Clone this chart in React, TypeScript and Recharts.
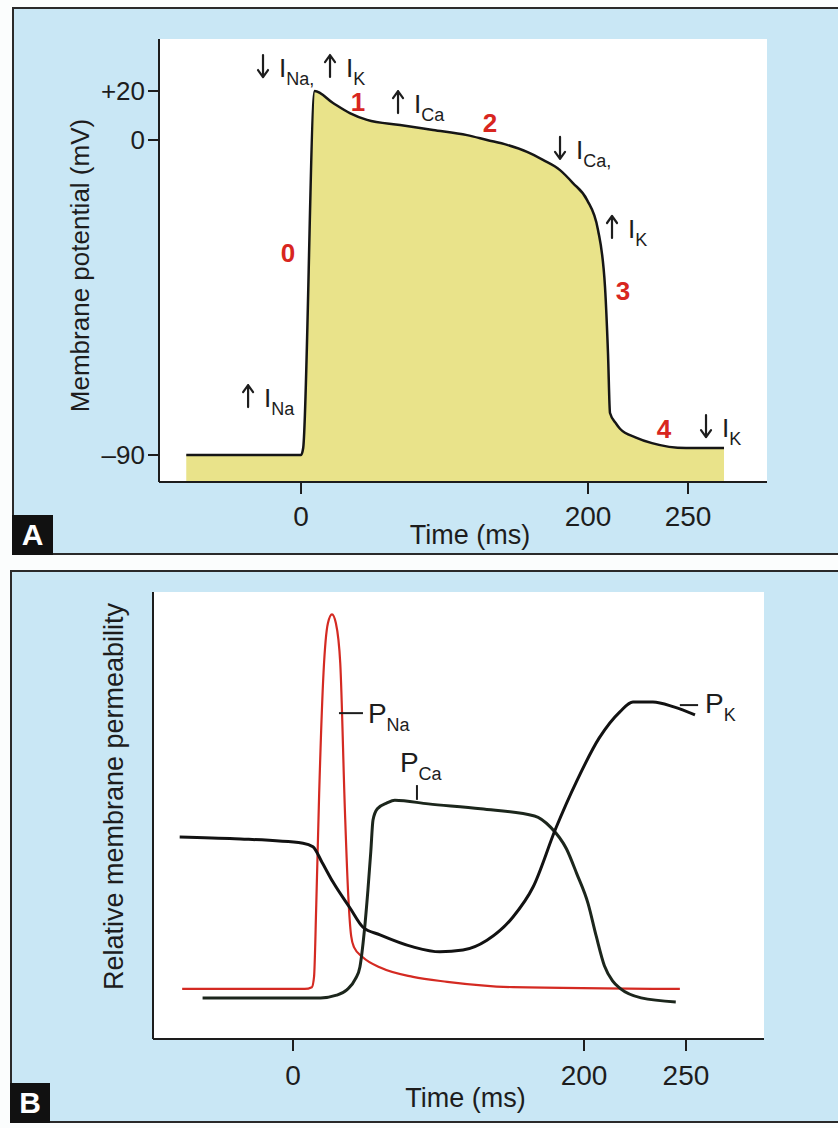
import React from "react";
import {
  ComposedChart,
  Area,
  Line,
  XAxis,
  YAxis,
  CartesianGrid,
  ReferenceDot,
  ReferenceLine,
} from "recharts";

const FONT = "'Liberation Sans', Arial, Helvetica, sans-serif";
const INK = "#1d1d1d";
const RED = "#d8261f";
const PANEL_BG = "#c9e7f5";

// A: ventricular action potential (ms, mV)
const apTime = [-80, 0, 1.5, 9.5, 22.3, 34, 46, 69, 92, 115.7, 129.6, 143.6, 157.5, 168.6, 180.5, 189.5, 199.3, 205, 208.5, 210, 211, 214, 216, 224, 232, 249, 268];
const apVoltage = [-90, -90, -88, 20, 15.1, 11, 8.2, 6.1, 4.1, 2.0, 0, -1.4, -3.4, -5.7, -8.6, -12.3, -17.1, -25.7, -42, -61, -78, -81, -82.5, -85, -86.6, -88, -88];

// B: relative permeabilities (arbitrary units 0-100)
const naTime = [-76, 8, 13, 14.5, 16, 18, 21, 24, 26.8, 29.5, 32.5, 35.7, 38, 40, 42, 48, 60, 82.5, 106, 151, 247];
const naPerm = [11.2, 11.2, 11.6, 14, 30, 55, 82, 93, 95, 93, 84, 51, 32, 23, 20.5, 18.3, 16, 13.9, 12.8, 11.6, 11.2];

const caTime = [-62, 19, 30, 37, 43, 46, 49, 51.5, 53.5, 55, 58, 64.6, 70, 93, 129, 166, 177, 188, 195, 202, 206, 210, 214, 218, 228, 245];
const caPerm = [9.2, 9.2, 9.8, 11, 13.5, 16.1, 24, 33.3, 42, 49, 51.5, 52.8, 53.4, 52.6, 51.5, 49.9, 47.4, 42.5, 37, 30.3, 23, 16.4, 13, 11.2, 9.2, 8.3];

const kTime = [-77.7, -40, 6.9, 13.7, 20, 27.5, 39.2, 48.1, 59.8, 82.5, 101, 116.8, 133.3, 151.2, 165, 180.7, 195, 207.4, 217.6, 224, 233.8, 244, 254.4];
const kPerm = [45.2, 44.8, 43.8, 43, 39.5, 35.1, 29.3, 25, 23.3, 20.6, 19.5, 19.9, 22.1, 27.3, 34, 47.2, 57.7, 67.3, 73.2, 75.4, 75.4, 74.3, 72.5];

const timeTicks = [0, 200, 250];
const voltageTicks = [-90, 0, 20];

// current annotations: arrow + current name, anchored at (time, mV)
const apNotes = [
  { t: -26.5, v: 25.7, dir: "down", text: "I_{Na,}" },
  { t: 20.2, v: 25.7, dir: "up", text: "I_{K}" },
  { t: 67.6, v: 11, dir: "up", text: "I_{Ca}" },
  { t: 180.5, v: -5.4, dir: "down", text: "I_{Ca,}" },
  { t: 212, v: -28, dir: "up", text: "I_{K}" },
  { t: -36.9, v: -76.3, dir: "up", text: "I_{Na}" },
  { t: 259, v: -84.9, dir: "down", text: "I_{K}" },
];
const apPhases = [
  { t: -9.1, v: -34.9, text: "0" },
  { t: 39.7, v: 11.8, text: "1" },
  { t: 131.7, v: 3.3, text: "2" },
  { t: 217.5, v: -45.7, text: "3" },
  { t: 238, v: -85.1, text: "4" },
];
const permNotes = [
  { t: 51.5, v: 70.7, text: "P_{Na}" },
  { t: 73.5, v: 59.7, text: "P_{Ca}" },
  { t: 259.3, v: 72.9, text: "P_{K}" },
];
const permLeaders = [
  { t1: 31.6, v1: 72.9, t2: 48.1, v2: 72.9 },
  { t1: 85.2, v1: 56.8, t2: 85.2, v2: 53.5 },
  { t1: 247, v1: 74.7, t2: 255.9, v2: 74.7 },
];

const apData = apTime.map((t, i) => ({ t, v: apVoltage[i] }));
const naData = naTime.map((t, i) => ({ t, p: naPerm[i] }));
const caData = caTime.map((t, i) => ({ t, p: caPerm[i] }));
const kData = kTime.map((t, i) => ({ t, p: kPerm[i] }));

// the textbook axes are schematic: spacing between ticks is not uniform,
// so each axis gets a piecewise-linear scale through its knots
function piecewise(knots: number[], fracs: number[]): any {
  let dom = [knots[0], knots[knots.length - 1]];
  let rng = [0, 1];
  const frac = (v: number) => {
    let i = 0;
    while (i < knots.length - 2 && v > knots[i + 1]) i++;
    const k0 = knots[i];
    const k1 = knots[i + 1];
    return fracs[i] + ((v - k0) / (k1 - k0)) * (fracs[i + 1] - fracs[i]);
  };
  const scale: any = (v: number) => rng[0] + frac(v) * (rng[1] - rng[0]);
  scale.domain = (d?: number[]) => {
    if (d === undefined) return dom.slice();
    dom = d.slice();
    return scale;
  };
  scale.range = (r?: number[]) => {
    if (r === undefined) return rng.slice();
    rng = r.slice();
    return scale;
  };
  scale.copy = () => piecewise(knots, fracs).domain(dom).range(rng);
  scale.ticks = () => knots.slice();
  scale.tickFormat = () => (v: number) => String(v);
  scale.invert = (px: number) => {
    const f = (px - rng[0]) / (rng[1] - rng[0]);
    let i = 0;
    while (i < fracs.length - 2 && f > fracs[i + 1]) i++;
    return knots[i] + ((f - fracs[i]) / (fracs[i + 1] - fracs[i])) * (knots[i + 1] - knots[i]);
  };
  return scale;
}

const xKnotsA = [-99, 0, 200, 250, 289.5];
const xScaleA = piecewise(xKnotsA, [0, 0.2336, 0.7056, 0.8701, 1]);
const yKnotsA = [-98, -90, 0, 20, 41.2];
const yScaleA = piecewise(yKnotsA, [0, 0.0609, 0.772, 0.8826, 1]);
const xKnotsB = [-96, 0, 200, 250, 288];
const xScaleB = piecewise(xKnotsB, [0, 0.2291, 0.7054, 0.8723, 1]);

function RichText({ x, y, text, size, subSize, drop, anchor = "start", fill = INK, weight = "normal" }: any) {
  const parts = text.split(/(_\{[^}]*\})/).filter((s: string) => s.length);
  let cur = 0;
  return (
    <text x={x} y={y} fontFamily={FONT} fontSize={size} fill={fill} fontWeight={weight} textAnchor={anchor}>
      {parts.map((s: string, i: number) => {
        const sub = s.startsWith("_{");
        const target = sub ? drop : 0;
        const dy = target - cur;
        cur = target;
        return (
          <tspan key={i} dy={dy} fontSize={sub ? subSize : size}>
            {sub ? s.slice(2, -1) : s}
          </tspan>
        );
      })}
    </text>
  );
}

function CurrentNote({ cx, cy, dir, text }: any) {
  const top = cy - 22;
  const bot = cy;
  const head = dir === "up" ? `M${cx - 5},${top + 7} L${cx},${top} L${cx + 5},${top + 7}` : `M${cx - 5},${bot - 7} L${cx},${bot} L${cx + 5},${bot - 7}`;
  return (
    <g>
      <path d={`M${cx},${top} L${cx},${bot} ${head}`} stroke={INK} strokeWidth={2.2} fill="none" strokeLinecap="round" strokeLinejoin="round" />
      <RichText x={cx + 16} y={cy} text={text} size={26} subSize={18} drop={8} />
    </g>
  );
}

const axisLine = { stroke: INK, strokeWidth: 2 };
const tickLine = { stroke: INK, strokeWidth: 2 };

function PanelA() {
  return (
    <ComposedChart width={838} height={560} data={apData} margin={{ top: 39, right: 71, bottom: 0, left: 0 }}>
      <CartesianGrid horizontal={false} vertical={false} fill="#ffffff" fillOpacity={1} />
      <XAxis
        dataKey="t"
        type="number"
        domain={[xKnotsA[0], xKnotsA[xKnotsA.length - 1]]}
        scale={xScaleA}
        ticks={timeTicks}
        allowDataOverflow
        height={78}
        axisLine={axisLine}
        tickLine={tickLine}
        tickSize={12}
        tickMargin={12}
        tick={{ fontSize: 28, fill: INK, fontFamily: FONT }}
        label={{ value: "Time (ms)", position: "insideBottom", offset: 16, dx: 7, fontSize: 27, fill: INK, fontFamily: FONT }}
      />
      <YAxis
        dataKey="v"
        type="number"
        domain={[yKnotsA[0], yKnotsA[yKnotsA.length - 1]]}
        scale={yScaleA}
        ticks={voltageTicks}
        allowDataOverflow
        width={159}
        axisLine={axisLine}
        tickLine={tickLine}
        tickSize={11}
        tickMargin={3}
        tick={{ fontSize: 26, fill: INK, fontFamily: FONT }}
        tickFormatter={(v: number) => (v > 0 ? `+${v}` : v < 0 ? `–${-v}` : "0")}
        label={{
          value: "Membrane potential (mV)",
          angle: -90,
          position: "insideLeft",
          offset: 80,
          dy: 5,
          fontSize: 26,
          fill: INK,
          fontFamily: FONT,
          style: { textAnchor: "middle" },
        }}
      />
      <XAxis xAxisId="top" orientation="top" height={0} tick={false} tickLine={false} axisLine={axisLine} />
      <YAxis yAxisId="right" orientation="right" width={0} tick={false} tickLine={false} axisLine={axisLine} />
      <Area
        dataKey="v"
        type="monotone"
        stroke="#161616"
        strokeWidth={2.5}
        fill="#e9e38a"
        fillOpacity={1}
        baseValue="dataMin"
        isAnimationActive={false}
      />
      {apNotes.map((n, i) => (
        <ReferenceDot
          key={`n${i}`}
          x={n.t}
          y={n.v}
          r={1}
          shape={(p: any) => <CurrentNote cx={p.cx} cy={p.cy} dir={n.dir} text={n.text} />}
        />
      ))}
      {apPhases.map((n, i) => (
        <ReferenceDot
          key={`p${i}`}
          x={n.t}
          y={n.v}
          r={1}
          shape={(p: any) => (
            <RichText x={p.cx} y={p.cy} text={n.text} size={26} subSize={26} drop={0} anchor="middle" fill={RED} weight="bold" />
          )}
        />
      ))}
    </ComposedChart>
  );
}

function PanelB() {
  return (
    <ComposedChart width={838} height={568} margin={{ top: 32, right: 74, bottom: 0, left: 0 }}>
      <CartesianGrid horizontal={false} vertical={false} fill="#ffffff" fillOpacity={1} />
      <XAxis
        dataKey="t"
        type="number"
        domain={[xKnotsB[0], xKnotsB[xKnotsB.length - 1]]}
        scale={xScaleB}
        ticks={timeTicks}
        allowDataOverflow
        height={89}
        axisLine={axisLine}
        tickLine={tickLine}
        tickSize={12}
        tickMargin={14}
        tick={{ fontSize: 28, fill: INK, fontFamily: FONT }}
        label={{ value: "Time (ms)", position: "insideBottom", offset: 21, dx: 7, fontSize: 27, fill: INK, fontFamily: FONT }}
      />
      <YAxis
        type="number"
        domain={[0, 100]}
        allowDataOverflow
        width={153}
        axisLine={axisLine}
        tick={false}
        tickLine={false}
        label={{
          value: "Relative membrane permeability",
          angle: -90,
          position: "insideLeft",
          offset: 113,
          dy: -19,
          fontSize: 27,
          fill: INK,
          fontFamily: FONT,
          style: { textAnchor: "middle" },
        }}
      />
      <XAxis xAxisId="top" orientation="top" height={0} tick={false} tickLine={false} axisLine={axisLine} />
      <YAxis yAxisId="right" orientation="right" width={0} tick={false} tickLine={false} axisLine={axisLine} />
      <Line data={naData} dataKey="p" type="monotone" stroke="#d42a22" strokeWidth={2.2} dot={false} isAnimationActive={false} />
      <Line data={caData} dataKey="p" type="monotone" stroke="#1c261c" strokeWidth={3} dot={false} isAnimationActive={false} />
      <Line data={kData} dataKey="p" type="monotone" stroke="#121212" strokeWidth={3} dot={false} isAnimationActive={false} />
      {permLeaders.map((l, i) => (
        <ReferenceLine
          key={`l${i}`}
          segment={[
            { x: l.t1, y: l.v1 },
            { x: l.t2, y: l.v2 },
          ]}
          stroke={INK}
          strokeWidth={2}
        />
      ))}
      {permNotes.map((n, i) => (
        <ReferenceDot
          key={`b${i}`}
          x={n.t}
          y={n.v}
          r={1}
          shape={(p: any) => <RichText x={p.cx} y={p.cy} text={n.text} size={28} subSize={18} drop={8} />}
        />
      ))}
    </ComposedChart>
  );
}

const frame: React.CSSProperties = {
  position: "absolute",
  left: 12,
  width: 840,
  boxSizing: "border-box",
  background: PANEL_BG,
  borderTop: "2px solid #2a2a2a",
  borderLeft: "2px solid #2a2a2a",
  borderBottom: "2px solid #2a2a2a",
};

const badge: React.CSSProperties = {
  position: "absolute",
  background: "#111",
  color: "#fff",
  fontFamily: FONT,
  fontWeight: "bold",
  fontSize: 30,
  display: "flex",
  alignItems: "center",
  justifyContent: "center",
};

export default function App() {
  return (
    <div
      style={{
        position: "absolute",
        left: 0,
        top: 0,
        width: 838,
        height: 1128,
        overflow: "hidden",
        background: "#fbfdfd",
        fontFamily: FONT,
      }}
    >
      <div style={{ ...frame, top: 7, height: 548 }} />
      <div style={{ ...frame, top: 570, height: 553, left: 10 }} />
      <div style={{ position: "absolute", left: 0, top: 0 }}>
        <PanelA />
      </div>
      <div style={{ position: "absolute", left: 0, top: 560 }}>
        <PanelB />
      </div>
      <div style={{ ...badge, left: 12, top: 515, width: 41, height: 40 }}>A</div>
      <div style={{ ...badge, left: 10, top: 1083, width: 40, height: 40 }}>B</div>
    </div>
  );
}
